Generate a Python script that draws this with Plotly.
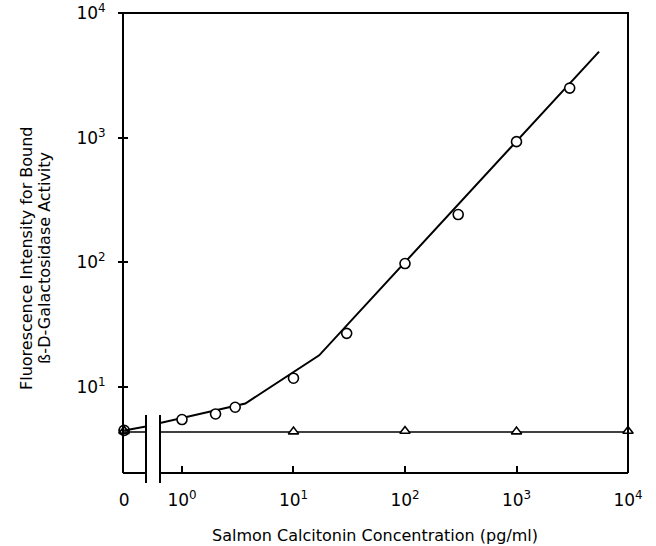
import plotly.graph_objects as go
import numpy as np

# ---- data ----
circ_x = [1, 2, 3, 10, 30, 100, 300, 1000, 3000]
circ_y = [5.5, 6.1, 6.9, 11.8, 27, 98, 242, 930, 2500]
circ_zero_y = 4.5
tri_x = [10, 100, 1000, 10000]
tri_y = [4.4, 4.45, 4.4, 4.45]
tri_zero_y = 4.45
fit_x = [0.635, 3.7, 17, 5500]
fit_y = [5.15, 7.4, 18, 4900]
fit_zero_y = [4.5, 4.85]
base_y = 4.37
base_x = [0.635, 10000]

x_tickvals = [1, 10, 100, 1000, 10000]
x_ticktext = ["10<sup>0</sup>", "10<sup>1</sup>", "10<sup>2</sup>", "10<sup>3</sup>", "10<sup>4</sup>"]
y_tickvals = [10, 100, 1000, 10000]
y_ticktext = ["10<sup>1</sup>", "10<sup>2</sup>", "10<sup>3</sup>", "10<sup>4</sup>"]

FONT = "DejaVu Sans"
TICKSIZE = 17
TITLESIZE = 16
W, H = 656, 546
ML, MR, MT, MB = 123, 28, 13, 73
pw = W - ML - MR
ph = H - MT - MB
d0_end = (146 - ML) / pw
d1_start = (160 - ML) / pw
ymin = 2.05

fig = go.Figure()
# zero panel
fig.add_trace(go.Scatter(x=[0, 1], y=fit_zero_y, mode="lines", line=dict(color="black", width=2),
                         xaxis="x", yaxis="y", showlegend=False))
fig.add_trace(go.Scatter(x=[0, 1], y=[base_y, base_y], mode="lines", line=dict(color="black", width=1.5),
                         xaxis="x", yaxis="y", showlegend=False))
fig.add_trace(go.Scatter(x=[0], y=[circ_zero_y], mode="markers",
                         marker=dict(symbol="circle-open", size=10, color="black", line=dict(width=1.8)),
                         xaxis="x", yaxis="y", cliponaxis=False, showlegend=False))
fig.add_trace(go.Scatter(x=[0], y=[tri_zero_y], mode="markers",
                         marker=dict(symbol="triangle-up-open", size=9, color="black", line=dict(width=1.8)),
                         xaxis="x", yaxis="y", cliponaxis=False, showlegend=False))
# main panel
fig.add_trace(go.Scatter(x=fit_x, y=fit_y, mode="lines", line=dict(color="black", width=2),
                         xaxis="x2", yaxis="y2", showlegend=False))
fig.add_trace(go.Scatter(x=base_x, y=[base_y, base_y], mode="lines", line=dict(color="black", width=1.5),
                         xaxis="x2", yaxis="y2", showlegend=False))
fig.add_trace(go.Scatter(x=circ_x, y=circ_y, mode="markers",
                         marker=dict(symbol="circle", size=10, color="white", line=dict(width=1.6, color="black")),
                         xaxis="x2", yaxis="y2", cliponaxis=False, showlegend=False))
fig.add_trace(go.Scatter(x=tri_x, y=tri_y, mode="markers",
                         marker=dict(symbol="triangle-up", size=9, color="white", line=dict(width=1.6, color="black")),
                         xaxis="x2", yaxis="y2", cliponaxis=False, showlegend=False))

yr = [np.log10(ymin), 4]
fig.update_layout(
    width=W, height=H, margin=dict(l=ML, r=MR, t=MT, b=MB, autoexpand=False),
    paper_bgcolor="white", plot_bgcolor="white",
    font=dict(family=FONT, size=TICKSIZE, color="black"),
    xaxis=dict(domain=[0, d0_end], range=[-0.05, 1], tickvals=[0], ticktext=["0"],
               ticks="", showgrid=False, zeroline=False, showline=False, ticklabelstandoff=15,
               automargin=False, ticklabeloverflow="allow"),
    xaxis2=dict(domain=[d1_start, 1], type="log", range=[np.log10(fit_x[0]), 4],
                tickvals=x_tickvals, ticktext=x_ticktext, ticks="inside", ticklen=7, tickwidth=1.5,
                tickcolor="black", showgrid=False, zeroline=False, showline=False, anchor="y2",
                ticklabelstandoff=15, automargin=False, ticklabeloverflow="allow"),
    yaxis=dict(type="log", range=yr, tickvals=y_tickvals, ticktext=y_ticktext, ticks="outside",
               ticklen=4, tickwidth=1.5, tickcolor="black", showgrid=False, zeroline=False,
               showline=False, anchor="x", ticklabelstandoff=9, automargin=False,
               ticklabeloverflow="allow"),
    yaxis2=dict(type="log", range=yr, tickvals=y_tickvals, ticks="inside", ticklen=4, tickwidth=1.5,
                tickcolor="black", showticklabels=False, showgrid=False, zeroline=False,
                showline=False, anchor="free", position=0, automargin=False),
)

lw = 2
shapes = [
    dict(type="path", xref="paper", yref="paper", path="M 0,0 L 0,1 L 1,1 L 1,0",
         line=dict(color="black", width=lw), fillcolor="rgba(0,0,0,0)", layer="above"),
    dict(type="line", xref="paper", yref="paper", x0=0, x1=d0_end, y0=0, y1=0, line=dict(color="black", width=lw)),
    dict(type="line", xref="paper", yref="paper", x0=d1_start, x1=1, y0=0, y1=0, line=dict(color="black", width=lw)),
    dict(type="line", xref="paper", yref="paper", x0=d0_end, x1=d0_end, y0=-10 / ph, y1=58 / ph,
         line=dict(color="black", width=lw)),
    dict(type="line", xref="paper", yref="paper", x0=d1_start, x1=d1_start, y0=-10 / ph, y1=58 / ph,
         line=dict(color="black", width=lw)),
]
fig.update_layout(shapes=shapes)

fig.add_annotation(text="Salmon Calcitonin Concentration (pg/ml)", xref="paper", yref="paper",
                   x=(375 - ML) / pw, y=(473 - 535) / ph, xanchor="center", yanchor="middle",
                   showarrow=False, font=dict(size=TITLESIZE))
fig.add_annotation(text="Fluorescence Intensity for Bound",
                   xref="paper", yref="paper", x=(26 - ML) / pw, y=(473 - 258) / ph, xanchor="center",
                   yanchor="middle", textangle=-90, showarrow=False, font=dict(size=TITLESIZE))
fig.add_annotation(text="ß-D-Galactosidase Activity",
                   xref="paper", yref="paper", x=(44 - ML) / pw, y=(473 - 258) / ph, xanchor="center",
                   yanchor="middle", textangle=-90, showarrow=False, font=dict(size=TITLESIZE))

fig.write_html("out.html")
